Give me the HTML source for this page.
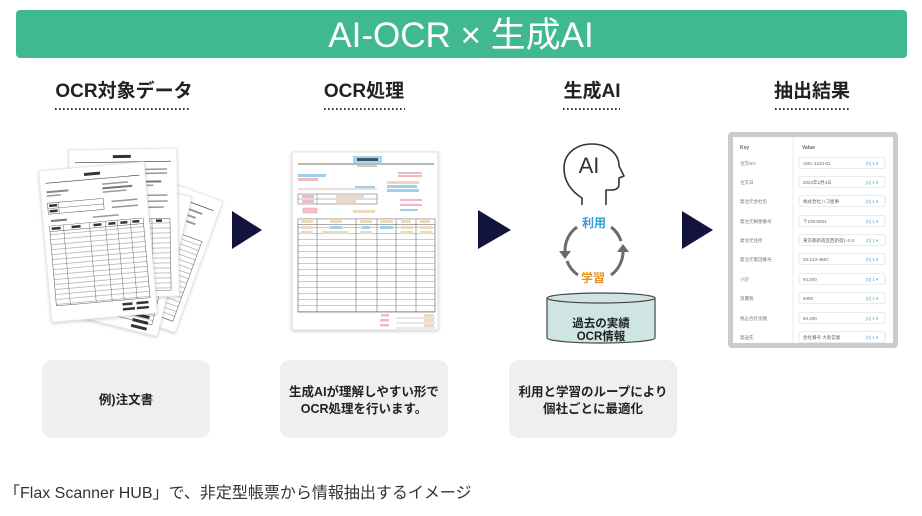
<!DOCTYPE html>
<html><head><meta charset="utf-8">
<style>
html,body{margin:0;padding:0;background:#fff;}
svg{display:block;}
text{font-family:"Liberation Sans","Noto Sans CJK JP",sans-serif;}
</style></head><body>
<svg width="922" height="516" viewBox="0 0 922 516" xmlns="http://www.w3.org/2000/svg">
<defs>
<pattern id="rows" width="10" height="5" patternUnits="userSpaceOnUse"><rect width="10" height="5" fill="#fff"/><line x1="0" y1="4.6" x2="10" y2="4.6" stroke="#777" stroke-width="0.45"/></pattern>
<pattern id="rows2" width="10" height="6" patternUnits="userSpaceOnUse"><rect width="10" height="6" fill="#fff"/><line x1="0" y1="5.6" x2="10" y2="5.6" stroke="#999" stroke-width="0.5"/></pattern>
<filter id="sh" x="-20%" y="-20%" width="140%" height="140%"><feDropShadow dx="0" dy="1" stdDeviation="1.6" flood-color="#000" flood-opacity="0.2"/></filter>
</defs>

<!-- Title bar -->
<rect x="16" y="10" width="891" height="48" rx="4" fill="#40b993"/>
<text x="461" y="47" font-size="35" fill="#fff" text-anchor="middle">AI-OCR × 生成AI</text>

<!-- Headings -->
<g font-size="19" font-weight="bold" fill="#222" text-anchor="middle">
<text x="124" y="97">OCR対象データ</text>
<text x="364" y="97">OCR処理</text>
<text x="592" y="97">生成AI</text>
<text x="812" y="97">抽出結果</text>
</g>
<g stroke="#333" stroke-width="2" stroke-dasharray="1.6 2.4">
<line x1="55" y1="109" x2="191" y2="109"/>
<line x1="324" y1="109" x2="405" y2="109"/>
<line x1="563" y1="109" x2="620" y2="109"/>
<line x1="775" y1="109" x2="850" y2="109"/>
</g>

<!-- Doc stack 1 -->
<!-- right rotated paper -->
<g transform="translate(152,250) rotate(20) translate(-50,-70)">
<rect width="100" height="140" fill="#fff" stroke="#d0d0d0" stroke-width="0.5" filter="url(#sh)"/>
<line x1="6" y1="12" x2="94" y2="12" stroke="#333" stroke-width="0.6"/>
<rect x="60" y="18" width="25" height="2" fill="#999"/>
<rect x="60" y="24" width="20" height="2" fill="#999"/>
<rect x="60" y="30" width="22" height="2" fill="#999"/>
<rect x="50" y="45" width="44" height="85" fill="url(#rows)" stroke="#555" stroke-width="0.5"/>
<line x1="72" y1="45" x2="72" y2="130" stroke="#555" stroke-width="0.4"/>
</g>
<!-- bottom paper -->
<g transform="translate(128,255) rotate(14) translate(-48,-72)">
<rect width="96" height="144" fill="#fff" stroke="#d0d0d0" stroke-width="0.5" filter="url(#sh)"/>
<rect x="8" y="50" width="80" height="84" fill="url(#rows)" stroke="#555" stroke-width="0.5"/>
<rect x="68" y="126" width="16" height="3" fill="#333"/>
<rect x="68" y="132" width="16" height="3" fill="#333"/>
<rect x="68" y="138" width="16" height="3" fill="#333"/>
</g>
<!-- back upright paper -->
<g transform="translate(124,223) rotate(-1) translate(-54,-74)">
<rect width="108" height="148" fill="#fff" stroke="#d0d0d0" stroke-width="0.5" filter="url(#sh)"/>
<rect x="44" y="6" width="18" height="3" fill="#333"/>
<line x1="6" y1="13" x2="102" y2="13" stroke="#333" stroke-width="0.6"/>
<rect x="70" y="20" width="28" height="1.5" fill="#999"/>
<rect x="70" y="24" width="28" height="1.5" fill="#999"/>
<rect x="60" y="32" width="32" height="2" fill="#777"/>
<rect x="60" y="36" width="24" height="1.5" fill="#999"/>
<rect x="74" y="46" width="24" height="1.5" fill="#999"/>
<rect x="74" y="52" width="24" height="1.5" fill="#999"/>
<rect x="74" y="58" width="20" height="1.5" fill="#999"/>
<rect x="8" y="70" width="92" height="72" fill="url(#rows)" stroke="#555" stroke-width="0.5"/>
<line x1="82" y1="70" x2="82" y2="142" stroke="#555" stroke-width="0.4"/>
<rect x="74" y="71" width="6" height="2.5" fill="#333"/>
<rect x="86" y="71" width="6" height="2.5" fill="#333"/>
</g>
<!-- front paper -->
<g transform="translate(98,242) rotate(-5) translate(-53,-76)">
<rect width="106" height="152" fill="#fff" stroke="#d0d0d0" stroke-width="0.5" filter="url(#sh)"/>
<rect x="45" y="6" width="16" height="3" fill="#333"/>
<line x1="6" y1="13" x2="100" y2="13" stroke="#333" stroke-width="0.6"/>
<rect x="6" y="21" width="22" height="2" fill="#888"/>
<rect x="6" y="25" width="14" height="1.5" fill="#999"/>
<rect x="62" y="18" width="26" height="1.5" fill="#999"/>
<rect x="62" y="22" width="30" height="2" fill="#777"/>
<rect x="62" y="26" width="24" height="1.5" fill="#999"/>
<rect x="6" y="33" width="56" height="11" fill="none" stroke="#555" stroke-width="0.5"/>
<line x1="6" y1="38.5" x2="62" y2="38.5" stroke="#555" stroke-width="0.4"/>
<line x1="17" y1="33" x2="17" y2="44" stroke="#555" stroke-width="0.4"/>
<rect x="7.5" y="34.5" width="8" height="2.5" fill="#333"/>
<rect x="7.5" y="40" width="8" height="2.5" fill="#333"/>
<rect x="70" y="36" width="26" height="1.5" fill="#999"/>
<rect x="70" y="42" width="26" height="1.5" fill="#999"/>
<rect x="8" y="50" width="16" height="2" fill="#777"/>
<rect x="50" y="50" width="26" height="1.5" fill="#999"/>
<rect x="6" y="56" width="94" height="80" fill="url(#rows)" stroke="#555" stroke-width="0.5"/>
<rect x="6.3" y="56.3" width="93.4" height="5" fill="#fff"/>
<line x1="6" y1="61.5" x2="100" y2="61.5" stroke="#555" stroke-width="0.5"/>
<g stroke="#555" stroke-width="0.4">
<line x1="20" y1="56" x2="20" y2="136"/><line x1="46" y1="56" x2="46" y2="136"/>
<line x1="62" y1="56" x2="62" y2="136"/><line x1="74" y1="56" x2="74" y2="136"/>
<line x1="87" y1="56" x2="87" y2="136"/>
</g>
<rect x="8" y="57.5" width="9" height="2.5" fill="#333"/>
<rect x="28" y="57.5" width="9" height="2.5" fill="#333"/>
<rect x="50" y="57.5" width="8" height="2.5" fill="#333"/>
<rect x="65" y="57.5" width="7" height="2.5" fill="#333"/>
<rect x="77" y="57.5" width="7" height="2.5" fill="#333"/>
<rect x="89" y="57.5" width="7" height="2.5" fill="#333"/>
<rect x="72" y="139" width="10" height="2.5" fill="#333"/>
<rect x="72" y="144" width="12" height="2.5" fill="#333"/>
<rect x="86" y="139" width="12" height="2.5" fill="#333"/>
<rect x="86" y="144" width="12" height="2.5" fill="#333"/>
</g>

<!-- Arrows -->
<g fill="#13143d">
<polygon points="232,211 262,230 232,249"/>
<polygon points="478,210 511,230 478,249"/>
<polygon points="682,211 713,230 682,249"/>
</g>

<!-- Doc 2 -->
<rect x="292" y="152" width="146" height="178" fill="#fff" stroke="#dcdcdc" stroke-width="0.8" filter="url(#sh)"/>
<rect x="353" y="156" width="29" height="7" fill="#a8d4f0"/>
<rect x="357" y="158" width="21" height="3" fill="#456"/>
<line x1="298" y1="164" x2="434" y2="164" stroke="#444" stroke-width="0.8"/>
<rect x="357" y="165.5" width="20" height="1" fill="#999"/>
<rect x="298" y="174" width="28" height="3" fill="#9fcfee"/>
<rect x="298" y="178" width="20" height="3" fill="#f2b8c6"/>
<rect x="398" y="172" width="24" height="2" fill="#f0b8c0"/>
<rect x="398" y="175" width="24" height="2" fill="#f0b8c0"/>
<rect x="387" y="181" width="32" height="3" fill="#ecd9bf"/>
<rect x="387" y="185" width="30" height="3" fill="#9fcfee"/>
<rect x="387" y="189" width="32" height="3" fill="#9fcfee"/>
<line x1="298" y1="189" x2="377" y2="189" stroke="#888" stroke-width="0.5"/>
<rect x="355" y="186" width="20" height="2" fill="#9fcfee"/>
<rect x="298" y="194" width="79" height="10" fill="none" stroke="#555" stroke-width="0.5"/>
<line x1="298" y1="199" x2="377" y2="199" stroke="#555" stroke-width="0.4"/>
<line x1="317" y1="194" x2="317" y2="204" stroke="#555" stroke-width="0.4"/>
<rect x="302" y="195" width="12" height="3" fill="#f0b8c0"/>
<rect x="302" y="200" width="12" height="3" fill="#f0b8c0"/>
<rect x="336" y="195" width="28" height="3" fill="#ecd9bf"/>
<rect x="336" y="200" width="20" height="3" fill="#ecd9bf"/>
<rect x="400" y="199" width="22" height="2" fill="#f0b8c0"/>
<rect x="400" y="204" width="22" height="2" fill="#f0b8c0"/>
<rect x="400" y="209" width="18" height="2" fill="#9fcfee"/>
<rect x="303" y="208" width="14" height="5" fill="#f4c3cc" stroke="#e58a9a" stroke-width="0.4"/>
<rect x="353" y="210" width="22" height="3" fill="#ecd9bf"/>
<rect x="298" y="219" width="137" height="93" fill="url(#rows2)" stroke="#555" stroke-width="0.6"/>
<rect x="298.3" y="219.3" width="136.4" height="5" fill="#fff"/>
<line x1="298" y1="224.5" x2="435" y2="224.5" stroke="#555" stroke-width="0.5"/>
<g stroke="#555" stroke-width="0.5">
<line x1="317" y1="219" x2="317" y2="312"/><line x1="356" y1="219" x2="356" y2="312"/>
<line x1="377" y1="219" x2="377" y2="312"/><line x1="396" y1="219" x2="396" y2="312"/>
<line x1="416" y1="219" x2="416" y2="312"/>
</g>
<g fill="#ecd9bf">
<rect x="301" y="220" width="12" height="3"/><rect x="330" y="220" width="12" height="3"/>
<rect x="360" y="220" width="12" height="3"/><rect x="380" y="220" width="13" height="3"/>
<rect x="401" y="220" width="10" height="3"/><rect x="420" y="220" width="10" height="3"/>
<rect x="301" y="226" width="12" height="3"/><rect x="301" y="231" width="12" height="3"/>
<rect x="322" y="231" width="26" height="3"/><rect x="360" y="231" width="12" height="3"/>
<rect x="401" y="226" width="12" height="3"/><rect x="420" y="226" width="12" height="3"/>
<rect x="401" y="231" width="12" height="3"/><rect x="420" y="231" width="12" height="3"/>
<rect x="424" y="314" width="10" height="3"/><rect x="424" y="319" width="10" height="3"/><rect x="424" y="324" width="10" height="3"/>
</g>
<g fill="#9fcfee">
<rect x="330" y="226" width="12" height="3"/><rect x="362" y="226" width="8" height="3"/>
<rect x="380" y="226" width="13" height="3"/>
</g>
<g fill="#f0b8c0">
<rect x="381" y="314" width="8" height="2.5"/><rect x="380" y="319" width="9" height="2.5"/><rect x="380" y="324" width="9" height="2.5"/>
</g>
<g stroke="#888" stroke-width="0.4">
<line x1="396" y1="318" x2="435" y2="318"/><line x1="396" y1="323" x2="435" y2="323"/><line x1="396" y1="328" x2="435" y2="328"/>
</g>

<!-- AI head -->
<path d="M582,205 L582,198 C571,191 564,181 564,168 C564,153 577,144 592,144 C608,144 619,154 619,166 L624,176 L619,178 L619,184 C619,188 616,190 611,190 L606,190 L606,205" fill="none" stroke="#333" stroke-width="1.6" stroke-linejoin="round"/>
<text x="589" y="173" font-size="22" fill="#333" text-anchor="middle">AI</text>

<!-- cycle -->
<g fill="none" stroke="#6b6b6b" stroke-width="3">
<path d="M577,227 A29,29 0 0 0 565,251"/>
<path d="M567,261 A29,29 0 0 0 578,275"/>
<path d="M611,275 A29,29 0 0 0 623,252"/>
<path d="M621,241 A29,29 0 0 0 611,227"/>
</g>
<polygon points="559,251 571,251 565,259" fill="#6b6b6b"/>
<polygon points="617,252 629,252 623,244" fill="#6b6b6b"/>
<text x="594" y="227" font-size="12" font-weight="bold" fill="#2a9fd6" text-anchor="middle">利用</text>
<text x="593" y="282" font-size="12" font-weight="bold" fill="#e8921e" text-anchor="middle">学習</text>

<!-- cylinder -->
<path d="M547,298 L547,338 A54,5 0 0 0 655,338 L655,298" fill="#cfe5e3" stroke="#444" stroke-width="1.2"/>
<ellipse cx="601" cy="298" rx="54" ry="5" fill="#cfe5e3" stroke="#444" stroke-width="1.2"/>
<text x="601" y="327" font-size="11.5" font-weight="bold" fill="#222" text-anchor="middle">過去の実績</text>
<text x="601" y="340" font-size="11.5" font-weight="bold" fill="#222" text-anchor="middle">OCR情報</text>

<!-- Result table -->
<rect x="728" y="132" width="170" height="216" rx="4" fill="#cbcbcb"/>
<rect x="733" y="137" width="160" height="206" fill="#fff"/>
<line x1="793" y1="137" x2="793" y2="343" stroke="#e6e6e6" stroke-width="0.8"/>
<text x="740" y="149" font-size="5" font-weight="bold" fill="#666">Key</text>
<text x="802" y="149" font-size="5" font-weight="bold" fill="#666">Value</text>
<g font-size="4.5" fill="#777">
<text x="740" y="165">注文NO</text>
<text x="740" y="184">注文日</text>
<text x="740" y="203">発注元会社名</text>
<text x="740" y="223">発注元郵便番号</text>
<text x="740" y="242">発注元住所</text>
<text x="740" y="261">発注元電話番号</text>
<text x="740" y="281">小計</text>
<text x="740" y="300">消費税</text>
<text x="740" y="320">税込合計金額</text>
<text x="740" y="339">発送先</text>
</g>
<g fill="#fff" stroke="#d8d8d8" stroke-width="0.6">
<rect x="799" y="157.5" width="86" height="11" rx="2"/>
<rect x="799" y="176.5" width="86" height="11" rx="2"/>
<rect x="799" y="195.5" width="86" height="11" rx="2"/>
<rect x="799" y="215.5" width="86" height="11" rx="2"/>
<rect x="799" y="234.5" width="86" height="11" rx="2"/>
<rect x="799" y="253.5" width="86" height="11" rx="2"/>
<rect x="799" y="273.5" width="86" height="11" rx="2"/>
<rect x="799" y="292.5" width="86" height="11" rx="2"/>
<rect x="799" y="312.5" width="86" height="11" rx="2"/>
<rect x="799" y="331.5" width="86" height="11" rx="2"/>
</g>
<g font-size="4.5" fill="#666">
<text x="803" y="165">ADC-1234-01</text>
<text x="803" y="184">2024年2月4日</text>
<text x="803" y="203">株式会社ハコ屋事</text>
<text x="803" y="223">〒100-0001</text>
<text x="803" y="242">東京都新宿区西新宿1-2-3</text>
<text x="803" y="261">03-123-4567</text>
<text x="803" y="281">¥4,000</text>
<text x="803" y="300">¥400</text>
<text x="803" y="320">¥4,400</text>
<text x="803" y="339">会社番号 大阪営業</text>
</g>
<g font-size="4.5" fill="#6aaac8">
<text x="866" y="165">[0] 1 ▾</text>
<text x="866" y="184">[0] 1 ▾</text>
<text x="866" y="203">[0] 1 ▾</text>
<text x="866" y="223">[0] 1 ▾</text>
<text x="866" y="242">[0] 1 ▾</text>
<text x="866" y="261">[0] 1 ▾</text>
<text x="866" y="281">[0] 1 ▾</text>
<text x="866" y="300">[0] 1 ▾</text>
<text x="866" y="320">[0] 1 ▾</text>
<text x="866" y="339">[0] 1 ▾</text>
</g>

<!-- Bottom boxes -->
<g fill="#efefef">
<rect x="42" y="360" width="168" height="78" rx="10"/>
<rect x="280" y="360" width="168" height="78" rx="10"/>
<rect x="509" y="360" width="168" height="78" rx="10"/>
</g>
<g font-size="12.5" font-weight="bold" fill="#222" text-anchor="middle">
<text x="126" y="404">例)注文書</text>
<text x="364" y="396">生成AIが理解しやすい形で</text>
<text x="364" y="413">OCR処理を行います。</text>
<text x="593" y="396">利用と学習のループにより</text>
<text x="593" y="413">個社ごとに最適化</text>
</g>

<!-- Caption -->
<text x="4" y="498" font-size="16" fill="#333">「Flax Scanner HUB」で、非定型帳票から情報抽出するイメージ</text>
</svg>
</body></html>
